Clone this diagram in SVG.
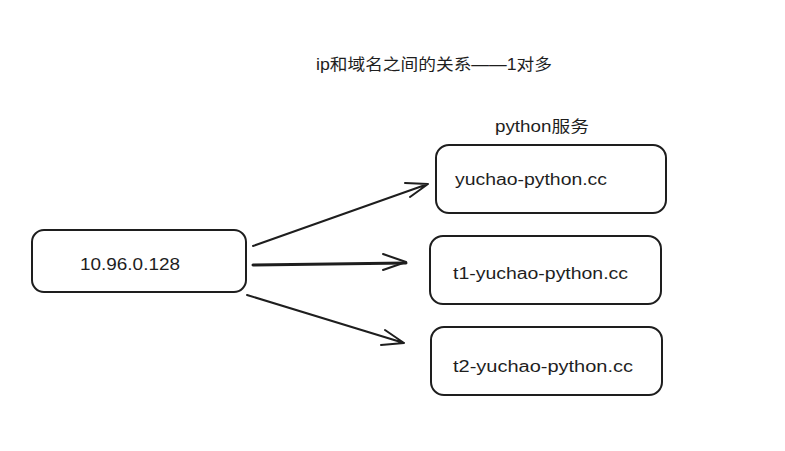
<svg xmlns="http://www.w3.org/2000/svg" width="785" height="451" viewBox="0 0 785 451">
<style>
.box{fill:#fff;stroke:#1e1e1e;stroke-width:2}
.t{font-family:"Liberation Sans","Noto Sans CJK SC",sans-serif;font-size:16px;fill:#1e1e1e;dominant-baseline:central}
.ln{fill:none;stroke:#1e1e1e;stroke-width:2;stroke-linecap:round;stroke-linejoin:round}
</style>
<rect width="785" height="451" fill="#fff"/>
<text class="t" x="316" y="64" textLength="236" lengthAdjust="spacingAndGlyphs">ip和域名之间的关系——1对多</text>
<text class="t" x="495" y="126" textLength="94" lengthAdjust="spacingAndGlyphs">python服务</text>
<g id="ip">
<rect class="box" x="32" y="230" width="214" height="62" rx="12"/>
<text class="t" x="80" y="264" textLength="100" lengthAdjust="spacingAndGlyphs">10.96.0.128</text>
</g>
<g id="d1">
<rect class="box" x="436" y="145" width="230" height="68" rx="13"/>
<text class="t" x="455" y="179" textLength="152" lengthAdjust="spacingAndGlyphs">yuchao-python.cc</text>
</g>
<g id="d2">
<rect class="box" x="430" y="236" width="231" height="68" rx="13"/>
<text class="t" x="453" y="273" textLength="175" lengthAdjust="spacingAndGlyphs">t1-yuchao-python.cc</text>
</g>
<g id="d3">
<rect class="box" x="431" y="327" width="231" height="68" rx="13"/>
<text class="t" x="453" y="366" textLength="180" lengthAdjust="spacingAndGlyphs">t2-yuchao-python.cc</text>
</g>
<g id="connectors">
<path class="ln" d="M253 246 L428 184 M405 183 L428 184 L410 197"/>
<path class="ln" style="stroke-width:3" d="M253 265 L406 263"/>
<path class="ln" d="M383 254 L406 262 L383 270"/>
<path class="ln" d="M247 295 L404 343 M385 330 L404 343 L381 345"/>
</g>
</svg>
